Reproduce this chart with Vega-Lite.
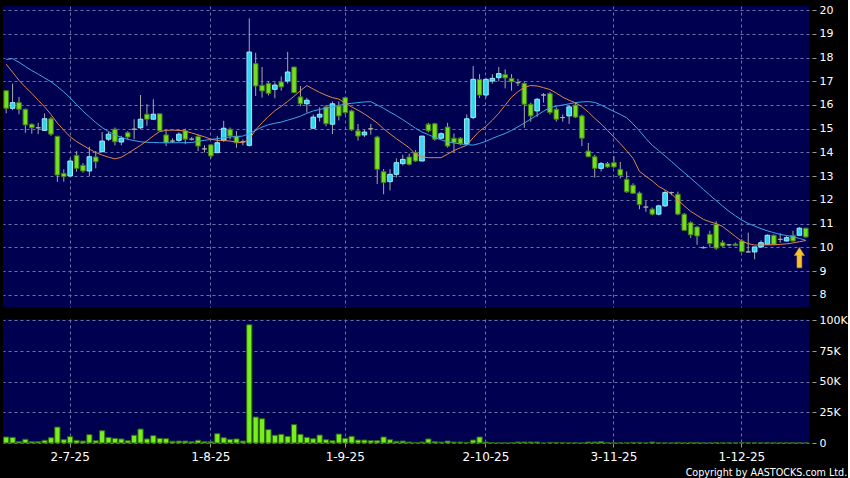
{
  "$schema": "https://vega.github.io/schema/vega-lite/v6.json",
  "background": "#000000",
  "padding": {"left": 3, "top": 4, "right": 0, "bottom": 0},
  "spacing": 7,
  "title": {"text": "Copyright by AASTOCKS.com Ltd.", "orient": "bottom", "anchor": "end", "color": "#ffffff", "font": "DejaVu Sans", "fontSize": 9.6, "fontWeight": "normal", "offset": 6},
  "data": {"name": "k"},
  "datasets": {
    "k": [
      {"d":"17-6-25","o":16.6,"h":16.6,"l":15.65,"c":15.86,"v":4900,"m1":17.72,"m2":17.92},
      {"d":"18-6-25","o":15.86,"h":16.9,"l":15.78,"c":16.1,"v":4600,"m1":17.38,"m2":17.95},
      {"d":"19-6-25","o":16.1,"h":16.34,"l":15.61,"c":15.82,"v":1100,"m1":17.04,"m2":17.8},
      {"d":"20-6-25","o":15.82,"h":15.85,"l":14.83,"c":15.16,"v":3000,"m1":16.75,"m2":17.62},
      {"d":"23-6-25","o":15.19,"h":15.22,"l":14.79,"c":15.04,"v":1100,"m1":16.49,"m2":17.45},
      {"d":"24-6-25","o":15.04,"h":15.25,"l":14.77,"c":15.04,"v":1100,"m1":16.2,"m2":17.3},
      {"d":"25-6-25","o":14.93,"h":15.65,"l":14.93,"c":15.42,"v":2200,"m1":15.92,"m2":17.14},
      {"d":"26-6-25","o":15.42,"h":15.5,"l":14.7,"c":14.77,"v":4300,"m1":15.6,"m2":16.98},
      {"d":"27-6-25","o":14.68,"h":14.7,"l":12.76,"c":13.05,"v":13000,"m1":15.24,"m2":16.78},
      {"d":"30-6-25","o":13.12,"h":13.29,"l":12.77,"c":12.98,"v":2700,"m1":14.94,"m2":16.55},
      {"d":"2-7-25","o":13.01,"h":13.76,"l":13.0,"c":13.64,"v":5200,"m1":14.66,"m2":16.3},
      {"d":"3-7-25","o":13.88,"h":14.06,"l":13.19,"c":13.33,"v":2200,"m1":14.46,"m2":16.02},
      {"d":"4-7-25","o":13.46,"h":13.55,"l":13.15,"c":13.22,"v":1600,"m1":14.3,"m2":15.74},
      {"d":"7-7-25","o":13.22,"h":14.24,"l":13.01,"c":13.82,"v":6800,"m1":14.14,"m2":15.5},
      {"d":"8-7-25","o":13.81,"h":14.06,"l":13.33,"c":13.61,"v":1900,"m1":14.0,"m2":15.26},
      {"d":"9-7-25","o":14.03,"h":14.86,"l":14.03,"c":14.48,"v":10000,"m1":13.89,"m2":15.05},
      {"d":"10-7-25","o":14.56,"h":14.88,"l":14.48,"c":14.77,"v":4600,"m1":13.8,"m2":14.88},
      {"d":"11-7-25","o":14.98,"h":15.05,"l":14.3,"c":14.45,"v":3800,"m1":13.73,"m2":14.74},
      {"d":"14-7-25","o":14.44,"h":14.7,"l":14.3,"c":14.6,"v":3300,"m1":13.8,"m2":14.64},
      {"d":"15-7-25","o":14.83,"h":14.9,"l":14.55,"c":14.65,"v":1900,"m1":13.96,"m2":14.55},
      {"d":"16-7-25","o":14.98,"h":15.4,"l":14.56,"c":14.98,"v":6300,"m1":14.13,"m2":14.5},
      {"d":"17-7-25","o":15.04,"h":16.42,"l":14.98,"c":15.4,"v":11400,"m1":14.3,"m2":14.45},
      {"d":"18-7-25","o":15.61,"h":16.03,"l":15.12,"c":15.4,"v":3300,"m1":14.49,"m2":14.43},
      {"d":"21-7-25","o":15.4,"h":16.24,"l":15.4,"c":15.61,"v":6000,"m1":14.7,"m2":14.42},
      {"d":"22-7-25","o":15.63,"h":15.63,"l":14.91,"c":14.91,"v":3800,"m1":14.88,"m2":14.41},
      {"d":"23-7-25","o":14.74,"h":14.9,"l":14.27,"c":14.41,"v":3500,"m1":14.93,"m2":14.41},
      {"d":"24-7-25","o":14.48,"h":14.6,"l":14.4,"c":14.48,"v":1400,"m1":14.94,"m2":14.41},
      {"d":"25-7-25","o":14.51,"h":14.85,"l":14.45,"c":14.77,"v":1600,"m1":14.93,"m2":14.41},
      {"d":"28-7-25","o":14.91,"h":15.0,"l":14.35,"c":14.56,"v":1600,"m1":14.9,"m2":14.41},
      {"d":"29-7-25","o":14.56,"h":14.65,"l":14.5,"c":14.56,"v":1100,"m1":14.82,"m2":14.42},
      {"d":"30-7-25","o":14.67,"h":14.75,"l":14.06,"c":14.27,"v":2200,"m1":14.74,"m2":14.47},
      {"d":"31-7-25","o":14.15,"h":14.3,"l":14.0,"c":14.15,"v":1100,"m1":14.66,"m2":14.51},
      {"d":"1-8-25","o":14.32,"h":14.35,"l":13.76,"c":13.85,"v":1100,"m1":14.56,"m2":14.55},
      {"d":"4-8-25","o":13.99,"h":14.7,"l":13.99,"c":14.41,"v":7600,"m1":14.51,"m2":14.58},
      {"d":"5-8-25","o":14.51,"h":15.33,"l":14.45,"c":15.02,"v":4300,"m1":14.5,"m2":14.62},
      {"d":"6-8-25","o":14.98,"h":15.05,"l":14.55,"c":14.69,"v":3000,"m1":14.48,"m2":14.65},
      {"d":"7-8-25","o":14.69,"h":14.9,"l":14.2,"c":14.41,"v":3300,"m1":14.44,"m2":14.67},
      {"d":"8-8-25","o":14.45,"h":14.55,"l":14.3,"c":14.45,"v":1600,"m1":14.41,"m2":14.69},
      {"d":"11-8-25","o":14.3,"h":19.65,"l":14.25,"c":18.23,"v":96500,"m1":14.56,"m2":14.8},
      {"d":"12-8-25","o":17.74,"h":18.2,"l":16.38,"c":16.8,"v":21200,"m1":14.95,"m2":14.93},
      {"d":"13-8-25","o":16.83,"h":17.6,"l":16.31,"c":16.59,"v":19800,"m1":15.25,"m2":15.07},
      {"d":"14-8-25","o":16.91,"h":17.0,"l":16.4,"c":16.49,"v":10900,"m1":15.52,"m2":15.17},
      {"d":"15-8-25","o":16.66,"h":16.95,"l":16.28,"c":16.84,"v":6300,"m1":15.76,"m2":15.23},
      {"d":"18-8-25","o":16.97,"h":17.2,"l":16.6,"c":16.76,"v":7100,"m1":15.94,"m2":15.28},
      {"d":"19-8-25","o":17.01,"h":18.24,"l":16.9,"c":17.39,"v":5400,"m1":16.15,"m2":15.36},
      {"d":"20-8-25","o":17.6,"h":17.6,"l":16.5,"c":16.52,"v":15000,"m1":16.37,"m2":15.44},
      {"d":"21-8-25","o":16.34,"h":16.8,"l":15.95,"c":16.05,"v":7100,"m1":16.6,"m2":15.53},
      {"d":"22-8-25","o":16.05,"h":16.3,"l":15.68,"c":16.2,"v":4600,"m1":16.82,"m2":15.65},
      {"d":"25-8-25","o":15.02,"h":15.6,"l":15.02,"c":15.49,"v":3500,"m1":16.67,"m2":15.75},
      {"d":"26-8-25","o":15.49,"h":15.9,"l":15.3,"c":15.61,"v":6500,"m1":16.53,"m2":15.81},
      {"d":"27-8-25","o":15.92,"h":16.0,"l":15.1,"c":15.21,"v":2700,"m1":16.41,"m2":15.87},
      {"d":"28-8-25","o":15.19,"h":16.15,"l":14.77,"c":16.05,"v":1900,"m1":16.31,"m2":15.92},
      {"d":"29-8-25","o":15.96,"h":16.15,"l":15.35,"c":15.54,"v":7300,"m1":16.25,"m2":15.98},
      {"d":"1-9-25","o":16.31,"h":16.35,"l":15.6,"c":15.68,"v":3800,"m1":16.08,"m2":16.04},
      {"d":"2-9-25","o":15.75,"h":15.8,"l":14.9,"c":14.95,"v":5400,"m1":15.92,"m2":16.07},
      {"d":"3-9-25","o":14.91,"h":15.2,"l":14.5,"c":14.69,"v":2400,"m1":15.78,"m2":16.1},
      {"d":"4-9-25","o":14.74,"h":14.95,"l":14.65,"c":14.86,"v":2400,"m1":15.62,"m2":16.13},
      {"d":"5-9-25","o":15.0,"h":15.2,"l":14.75,"c":15.0,"v":1900,"m1":15.44,"m2":16.14},
      {"d":"8-9-25","o":14.65,"h":14.7,"l":12.67,"c":13.29,"v":1900,"m1":15.24,"m2":16.0},
      {"d":"9-9-25","o":13.19,"h":13.3,"l":12.24,"c":12.73,"v":4900,"m1":15.0,"m2":15.86},
      {"d":"10-9-25","o":12.77,"h":13.3,"l":12.4,"c":13.08,"v":2700,"m1":14.78,"m2":15.7},
      {"d":"11-9-25","o":13.08,"h":13.75,"l":12.95,"c":13.57,"v":1400,"m1":14.58,"m2":15.55},
      {"d":"12-9-25","o":13.53,"h":13.9,"l":13.45,"c":13.71,"v":1600,"m1":14.39,"m2":15.38},
      {"d":"15-9-25","o":13.81,"h":13.95,"l":13.45,"c":13.5,"v":800,"m1":14.2,"m2":15.2},
      {"d":"16-9-25","o":13.99,"h":14.1,"l":13.6,"c":13.64,"v":500,"m1":13.93,"m2":15.02},
      {"d":"17-9-25","o":13.64,"h":14.69,"l":13.64,"c":14.69,"v":800,"m1":13.82,"m2":14.86},
      {"d":"18-9-25","o":15.19,"h":15.25,"l":14.85,"c":14.91,"v":3300,"m1":13.78,"m2":14.75},
      {"d":"19-9-25","o":15.21,"h":15.25,"l":14.5,"c":14.56,"v":1100,"m1":13.78,"m2":14.63},
      {"d":"22-9-25","o":14.6,"h":14.85,"l":14.55,"c":14.79,"v":800,"m1":13.78,"m2":14.53},
      {"d":"23-9-25","o":15.07,"h":15.25,"l":14.2,"c":14.27,"v":1600,"m1":13.93,"m2":14.45},
      {"d":"24-9-25","o":14.6,"h":14.8,"l":14.0,"c":14.41,"v":800,"m1":14.08,"m2":14.4},
      {"d":"25-9-25","o":14.6,"h":14.65,"l":14.3,"c":14.37,"v":800,"m1":14.2,"m2":14.36},
      {"d":"26-9-25","o":14.37,"h":15.6,"l":14.33,"c":15.42,"v":500,"m1":14.3,"m2":14.33},
      {"d":"29-9-25","o":15.47,"h":17.64,"l":15.4,"c":17.08,"v":2400,"m1":14.62,"m2":14.31},
      {"d":"30-9-25","o":17.08,"h":17.3,"l":16.3,"c":16.42,"v":4900,"m1":14.9,"m2":14.38},
      {"d":"2-10-25","o":16.42,"h":17.15,"l":16.3,"c":17.08,"v":800,"m1":15.1,"m2":14.47},
      {"d":"3-10-25","o":17.01,"h":17.3,"l":16.9,"c":17.12,"v":300,"m1":15.36,"m2":14.59},
      {"d":"6-10-25","o":17.15,"h":17.6,"l":17.0,"c":17.32,"v":100,"m1":15.65,"m2":14.7},
      {"d":"8-10-25","o":17.28,"h":17.5,"l":16.7,"c":17.14,"v":100,"m1":15.99,"m2":14.8},
      {"d":"9-10-25","o":17.12,"h":17.3,"l":16.6,"c":16.98,"v":300,"m1":16.33,"m2":14.93},
      {"d":"10-10-25","o":16.94,"h":17.1,"l":16.8,"c":16.94,"v":800,"m1":16.56,"m2":15.08},
      {"d":"13-10-25","o":16.91,"h":17.0,"l":15.04,"c":16.03,"v":800,"m1":16.75,"m2":15.24},
      {"d":"14-10-25","o":16.03,"h":16.1,"l":15.3,"c":15.54,"v":800,"m1":16.82,"m2":15.41},
      {"d":"15-10-25","o":15.75,"h":16.3,"l":15.5,"c":16.24,"v":800,"m1":16.8,"m2":15.57},
      {"d":"16-10-25","o":16.42,"h":16.5,"l":16.1,"c":16.42,"v":0,"m1":16.73,"m2":15.74},
      {"d":"17-10-25","o":16.48,"h":16.55,"l":15.6,"c":15.68,"v":500,"m1":16.65,"m2":15.89},
      {"d":"20-10-25","o":15.82,"h":15.9,"l":15.3,"c":15.4,"v":500,"m1":16.5,"m2":15.95},
      {"d":"21-10-25","o":15.47,"h":15.6,"l":15.3,"c":15.47,"v":300,"m1":16.33,"m2":16.0},
      {"d":"22-10-25","o":15.54,"h":16.0,"l":15.2,"c":15.92,"v":100,"m1":16.2,"m2":16.05},
      {"d":"23-10-25","o":16.0,"h":16.1,"l":15.45,"c":15.49,"v":300,"m1":16.09,"m2":16.1},
      {"d":"24-10-25","o":15.54,"h":15.6,"l":14.27,"c":14.6,"v":100,"m1":15.93,"m2":16.13},
      {"d":"27-10-25","o":14.06,"h":14.4,"l":13.8,"c":13.82,"v":800,"m1":15.7,"m2":16.14},
      {"d":"28-10-25","o":13.82,"h":13.9,"l":12.94,"c":13.33,"v":800,"m1":15.44,"m2":16.11},
      {"d":"30-10-25","o":13.33,"h":13.6,"l":13.2,"c":13.53,"v":1100,"m1":15.2,"m2":16.0},
      {"d":"31-10-25","o":13.53,"h":13.6,"l":13.35,"c":13.39,"v":300,"m1":14.93,"m2":15.86},
      {"d":"3-11-25","o":13.57,"h":13.85,"l":13.35,"c":13.39,"v":100,"m1":14.65,"m2":15.73},
      {"d":"4-11-25","o":13.29,"h":13.6,"l":12.9,"c":13.04,"v":100,"m1":14.37,"m2":15.6},
      {"d":"5-11-25","o":12.87,"h":13.2,"l":12.3,"c":12.34,"v":100,"m1":14.07,"m2":15.46},
      {"d":"6-11-25","o":12.62,"h":12.7,"l":12.25,"c":12.28,"v":500,"m1":13.75,"m2":15.2},
      {"d":"7-11-25","o":12.29,"h":12.35,"l":11.61,"c":11.8,"v":500,"m1":13.2,"m2":14.91},
      {"d":"10-11-25","o":11.7,"h":11.95,"l":11.5,"c":11.7,"v":100,"m1":13.0,"m2":14.59},
      {"d":"11-11-25","o":11.61,"h":11.68,"l":11.35,"c":11.4,"v":800,"m1":12.8,"m2":14.3},
      {"d":"12-11-25","o":11.4,"h":11.8,"l":11.35,"c":11.75,"v":100,"m1":12.57,"m2":14.08},
      {"d":"13-11-25","o":11.75,"h":12.4,"l":11.7,"c":12.31,"v":100,"m1":12.42,"m2":13.85},
      {"d":"14-11-25","o":12.31,"h":12.35,"l":12.2,"c":12.31,"v":100,"m1":12.25,"m2":13.62},
      {"d":"17-11-25","o":12.24,"h":12.35,"l":11.35,"c":11.4,"v":500,"m1":12.0,"m2":13.38},
      {"d":"18-11-25","o":11.4,"h":11.45,"l":10.72,"c":10.72,"v":100,"m1":11.75,"m2":13.15},
      {"d":"19-11-25","o":11.04,"h":11.1,"l":10.4,"c":10.53,"v":300,"m1":11.52,"m2":12.92},
      {"d":"20-11-25","o":10.86,"h":10.9,"l":10.11,"c":10.48,"v":300,"m1":11.35,"m2":12.68},
      {"d":"21-11-25","o":9.99,"h":10.05,"l":9.95,"c":9.99,"v":100,"m1":11.18,"m2":12.44},
      {"d":"24-11-25","o":10.55,"h":10.7,"l":10.0,"c":10.16,"v":100,"m1":11.08,"m2":12.2},
      {"d":"25-11-25","o":10.97,"h":11.1,"l":9.9,"c":9.97,"v":300,"m1":11.0,"m2":11.97},
      {"d":"26-11-25","o":10.2,"h":10.3,"l":10.0,"c":10.06,"v":100,"m1":10.88,"m2":11.74},
      {"d":"27-11-25","o":10.11,"h":10.15,"l":10.05,"c":10.11,"v":100,"m1":10.67,"m2":11.52},
      {"d":"28-11-25","o":10.14,"h":10.2,"l":10.05,"c":10.08,"v":100,"m1":10.46,"m2":11.33},
      {"d":"1-12-25","o":10.27,"h":10.35,"l":9.8,"c":9.82,"v":200,"m1":10.26,"m2":11.15},
      {"d":"2-12-25","o":9.81,"h":10.62,"l":9.78,"c":9.81,"v":100,"m1":10.16,"m2":11.01},
      {"d":"3-12-25","o":9.81,"h":10.02,"l":9.5,"c":10.02,"v":100,"m1":10.1,"m2":10.9},
      {"d":"4-12-25","o":10.02,"h":10.3,"l":10.0,"c":10.2,"v":100,"m1":10.1,"m2":10.79},
      {"d":"5-12-25","o":10.13,"h":10.55,"l":10.1,"c":10.51,"v":200,"m1":10.11,"m2":10.7},
      {"d":"8-12-25","o":10.51,"h":10.55,"l":10.1,"c":10.13,"v":100,"m1":10.11,"m2":10.62},
      {"d":"9-12-25","o":10.34,"h":10.6,"l":10.2,"c":10.34,"v":100,"m1":10.13,"m2":10.55},
      {"d":"10-12-25","o":10.27,"h":10.5,"l":10.25,"c":10.41,"v":100,"m1":10.15,"m2":10.5},
      {"d":"11-12-25","o":10.51,"h":10.7,"l":10.25,"c":10.27,"v":100,"m1":10.19,"m2":10.45},
      {"d":"12-12-25","o":10.51,"h":10.85,"l":10.5,"c":10.81,"v":100,"m1":10.24,"m2":10.38,"a":9.57},
      {"d":"15-12-25","o":10.81,"h":10.81,"l":10.41,"c":10.44,"v":100,"m1":10.29,"m2":10.3}
    ]
  },
  "vconcat": [
    {
      "width": 806,
      "height": 301,
      "encoding": {
        "x": {"field": "d", "type": "ordinal", "sort": null, "scale": {"paddingInner": 0, "paddingOuter": 0},
              "axis": {"values": ["2-7-25","1-8-25","1-9-25","2-10-25","3-11-25","1-12-25"], "labels": false, "ticks": false, "domain": false, "grid": true, "bandPosition": 0.5, "title": null}}
      },
      "layer": [
        {
          "mark": {"type": "rule", "color": "#a8a8a8", "strokeWidth": 1},
          "encoding": {
            "y": {"field": "l", "type": "quantitative", "scale": {"domain": [7.49, 20.17], "nice": false, "zero": false},
                  "axis": {"orient": "right", "values": [8,9,10,11,12,13,14,15,16,17,18,19,20], "labelOverlap": false, "labelBound": false, "grid": true, "domain": false, "ticks": true, "tickSize": 4, "offset": 3, "labelPadding": 3, "title": null}},
            "y2": {"field": "h"}
          }
        },
        {
          "mark": {"type": "bar", "width": 4.6, "strokeWidth": 1},
          "encoding": {
            "y": {"field": "o", "type": "quantitative", "scale": {"domain": [7.49, 20.17], "nice": false, "zero": false},
                  "axis": {"orient": "right", "values": [8,9,10,11,12,13,14,15,16,17,18,19,20], "labelOverlap": false, "labelBound": false, "grid": true, "domain": false, "ticks": true, "tickSize": 4, "offset": 3, "labelPadding": 3, "title": null}},
            "y2": {"field": "c"},
            "fill": {"condition": [{"test": "datum.c > datum.o", "value": "#36d3ef"}, {"test": "datum.c < datum.o", "value": "#76de22"}], "value": "#a8a8a8"},
            "stroke": {"condition": [{"test": "datum.c > datum.o", "value": "#9aefff"}, {"test": "datum.c < datum.o", "value": "#3f7f12"}], "value": "#a8a8a8"}
          }
        },
        {
          "mark": {"type": "line", "color": "#3fa6e8", "strokeWidth": 1},
          "encoding": {"y": {"field": "m2", "type": "quantitative", "scale": {"domain": [7.49, 20.17], "nice": false, "zero": false},
                  "axis": {"orient": "right", "values": [8,9,10,11,12,13,14,15,16,17,18,19,20], "labelOverlap": false, "labelBound": false, "grid": true, "domain": false, "ticks": true, "tickSize": 4, "offset": 3, "labelPadding": 3, "title": null}}}
        },
        {
          "mark": {"type": "line", "color": "#e0874a", "strokeWidth": 1},
          "encoding": {"y": {"field": "m1", "type": "quantitative", "scale": {"domain": [7.49, 20.17], "nice": false, "zero": false},
                  "axis": {"orient": "right", "values": [8,9,10,11,12,13,14,15,16,17,18,19,20], "labelOverlap": false, "labelBound": false, "grid": true, "domain": false, "ticks": true, "tickSize": 4, "offset": 3, "labelPadding": 3, "title": null}}}
        },
        {
          "mark": {"type": "point", "filled": true, "size": 420, "opacity": 1, "color": "#f3c232", "stroke": "#d88f1a", "strokeWidth": 0.5,
                   "shape": "M0,-1L0.5,-0.2L0.24,-0.2L0.24,1L-0.24,1L-0.24,-0.2L-0.5,-0.2Z"},
          "encoding": {"y": {"field": "a", "type": "quantitative", "scale": {"domain": [7.49, 20.17], "nice": false, "zero": false},
                  "axis": {"orient": "right", "values": [8,9,10,11,12,13,14,15,16,17,18,19,20], "labelOverlap": false, "labelBound": false, "grid": true, "domain": false, "ticks": true, "tickSize": 4, "offset": 3, "labelPadding": 3, "title": null}}}
        }
      ]
    },
    {
      "width": 806,
      "height": 124,
      "mark": {"type": "bar", "width": 5.2, "fill": "#78ee20", "stroke": "#2e6a0c", "strokeWidth": 1},
      "encoding": {
        "x": {"field": "d", "type": "ordinal", "sort": null, "scale": {"paddingInner": 0, "paddingOuter": 0},
              "axis": {"values": ["2-7-25","1-8-25","1-9-25","2-10-25","3-11-25","1-12-25"], "labelAngle": 0, "labelFontSize": 12, "ticks": true, "tickSize": 4, "domain": false, "grid": true, "bandPosition": 0.5, "labelPadding": 4, "title": null}},
        "y": {"field": "v", "type": "quantitative", "scale": {"domain": [0, 101200], "nice": false},
              "axis": {"orient": "right", "values": [0, 25000, 50000, 75000, 100000], "labelOverlap": false, "labelBound": false, "labelExpr": "datum.value == 0 ? '0' : format(datum.value / 1000, 'd') + 'K'", "grid": true, "domain": false, "ticks": true, "tickSize": 4, "offset": 3, "labelPadding": 3, "title": null}}
      }
    }
  ],
  "config": {
    "view": {"fill": "#000050", "stroke": null},
    "font": "DejaVu Sans",
    "axis": {"labelFont": "DejaVu Sans", "labelFontSize": 11, "labelColor": "#ffffff", "gridColor": "#6a72aa", "gridDash": [3, 3], "gridWidth": 1, "tickColor": "#9a9a9a"}
  }
}
